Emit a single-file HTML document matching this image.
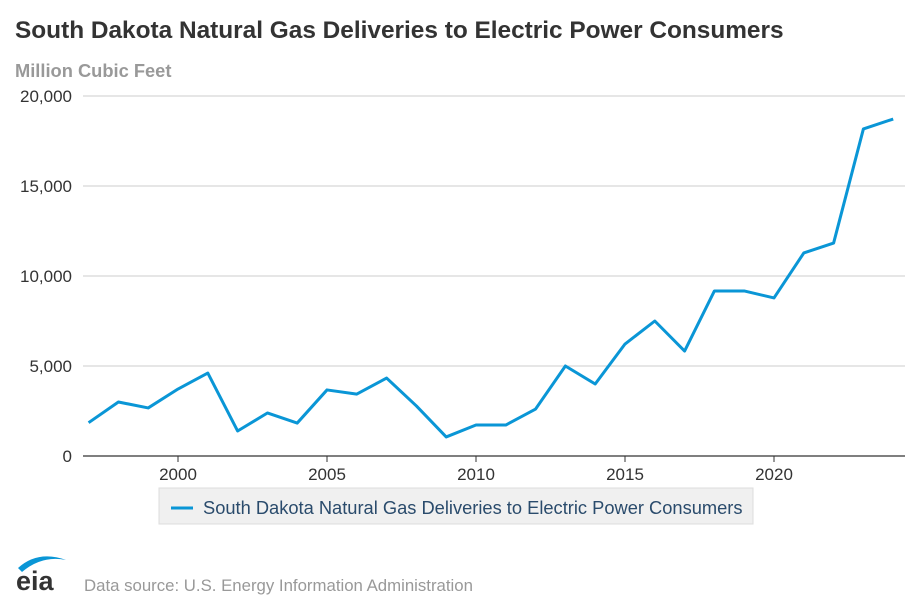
<!DOCTYPE html>
<html><head><meta charset="utf-8"><style>
body{margin:0;width:914px;height:609px;background:#fff;font-family:"Liberation Sans",sans-serif;overflow:hidden}
</style></head><body>
<svg width="914" height="609">
<text x="15" y="38" font-size="24.4" font-weight="bold" fill="#333">South Dakota Natural Gas Deliveries to Electric Power Consumers</text>
<text x="15" y="77" font-size="18.3" font-weight="bold" fill="#999">Million Cubic Feet</text>
<g id="grid"></g><g id="xt"></g>
<path id="line" fill="none" stroke="#0a96d6" stroke-width="3" stroke-linejoin="round"/>
<g>
<rect x="159" y="488" width="594" height="36" fill="#f0f0f0" stroke="#ddd"/>
<line x1="171" y1="508" x2="193" y2="508" stroke="#0a96d6" stroke-width="3"/>
<text x="203" y="514" font-size="18.3" fill="#2a4b6c">South Dakota Natural Gas Deliveries to Electric Power Consumers</text>
</g>
<g>
<path d="M18 568 Q38 550 66 560 Q42 555 22 572 Z" fill="#0a96d6"/>
<text x="16" y="590" font-size="27" font-weight="bold" fill="#333">eia</text>
</g>
<text x="84" y="591" font-size="16.8" fill="#999">Data source: U.S. Energy Information Administration</text>
</svg>
<script>
const years=[1997,1998,1999,2000,2001,2002,2003,2004,2005,2006,2007,2008,2009,2010,2011,2012,2013,2014,2015,2016,2017,2018,2019,2020,2021,2022,2023,2024];
const values=[1850,3000,2670,3720,4610,1390,2390,1830,3670,3440,4330,2780,1060,1720,1720,2610,5000,4000,6220,7500,5830,9170,9170,8780,11280,11830,18170,18720];
const yTicks=[0,5000,10000,15000,20000];
const xTicks=[2000,2005,2010,2015,2020];
const ns="http://www.w3.org/2000/svg";
const X=y=>178+(y-2000)*29.8;
const Y=v=>456-v*0.018;
const g=document.getElementById('grid'),xt=document.getElementById('xt');
yTicks.forEach(t=>{
 const l=document.createElementNS(ns,'line');
 l.setAttribute('x1',83);l.setAttribute('x2',905);l.setAttribute('y1',Y(t));l.setAttribute('y2',Y(t));
 l.setAttribute('stroke',t===0?'#333':'#ccc');l.setAttribute('stroke-width',t===0?1.3:1);
 
 
 g.appendChild(l);
 const tx=document.createElementNS(ns,'text');
 tx.setAttribute('x',72);tx.setAttribute('y',Y(t)+6);tx.setAttribute('text-anchor','end');
 tx.setAttribute('font-size','17');tx.setAttribute('fill','#333');tx.textContent=t.toLocaleString('en-US');
 
 
 g.appendChild(tx);
});
xTicks.forEach(t=>{
 const l=document.createElementNS(ns,'line');
 l.setAttribute('x1',X(t));l.setAttribute('x2',X(t));l.setAttribute('y1',456);l.setAttribute('y2',462);l.setAttribute('stroke','#333');
 
 
 xt.appendChild(l);
 const tx=document.createElementNS(ns,'text');
 tx.setAttribute('x',X(t));tx.setAttribute('y',480);tx.setAttribute('text-anchor','middle');
 tx.setAttribute('font-size','17');tx.setAttribute('fill','#333');tx.textContent=t;
 
 
 xt.appendChild(tx);
});
document.getElementById('line').setAttribute('d',years.map((y,i)=>(i?'L':'M')+X(y)+' '+Y(values[i])).join(' '));
</script>
</body></html>
